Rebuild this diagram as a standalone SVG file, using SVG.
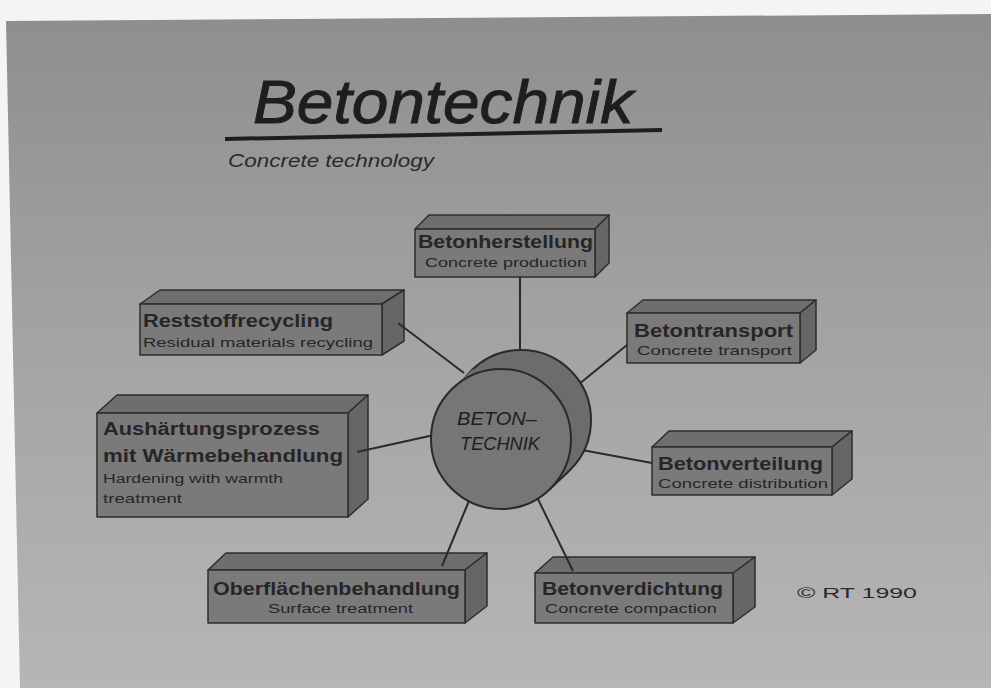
<svg xmlns="http://www.w3.org/2000/svg" width="991" height="688" viewBox="0 0 991 688">
<defs>
<linearGradient id="bg" x1="0" y1="0" x2="0" y2="1">
<stop offset="0" stop-color="#8e8e8e"/>
<stop offset="0.5" stop-color="#a4a4a4"/>
<stop offset="1" stop-color="#b6b6b6"/>
</linearGradient>
<style>
.face{fill:#7a7a7a;stroke:#2e2e2e;stroke-width:1.5;stroke-linejoin:round}
.top{fill:#6e6e6e;stroke:#2e2e2e;stroke-width:1.5;stroke-linejoin:round}
.side{fill:#666666;stroke:#2e2e2e;stroke-width:1.5;stroke-linejoin:round}
.de{font-family:"Liberation Sans",Arial,sans-serif;font-weight:bold;font-size:18px;fill:#262626}
.en{font-family:"Liberation Sans",Arial,sans-serif;font-size:13.5px;fill:#262626}
.conn line{stroke:#2a2a2a;stroke-width:2}
</style>
</defs>
<rect width="991" height="688" fill="#f4f4f4"/>
<polygon points="6,21 991,14 991,688 20,688" fill="url(#bg)"/>

<g id="title">
<text x="253" y="123" font-family="Liberation Sans,Arial,sans-serif" font-style="italic" font-size="62" fill="#1e1e1e" stroke="#1e1e1e" stroke-width="1" textLength="380" lengthAdjust="spacingAndGlyphs">Betontechnik</text>
<line x1="225" y1="139" x2="662" y2="130" stroke="#1e1e1e" stroke-width="4"/>
<text x="228" y="167" font-family="Liberation Sans,Arial,sans-serif" font-style="italic" font-size="18" fill="#2a2a2a" textLength="206" lengthAdjust="spacingAndGlyphs">Concrete technology</text>
</g>

<g id="box-betonherstellung">
<polygon class="top" points="415,229 429,215 609,215 595,229"/>
<polygon class="side" points="595,229 609,215 609,263 595,277"/>
<rect class="face" x="415" y="229" width="180" height="48"/>
<text class="de" x="418" y="248" textLength="175" lengthAdjust="spacingAndGlyphs">Betonherstellung</text>
<text class="en" x="425" y="267" textLength="162" lengthAdjust="spacingAndGlyphs">Concrete production</text>
</g>

<g id="box-reststoffrecycling">
<polygon class="top" points="140,304 160,290 404,290 382,304"/>
<polygon class="side" points="382,304 404,290 404,341 382,355"/>
<rect class="face" x="140" y="304" width="242" height="51"/>
<text class="de" x="143" y="327" textLength="190" lengthAdjust="spacingAndGlyphs">Reststoffrecycling</text>
<text class="en" x="143" y="347" textLength="230" lengthAdjust="spacingAndGlyphs">Residual materials recycling</text>
</g>

<g id="box-betontransport">
<polygon class="top" points="627,313 643,300 816,300 800,313"/>
<polygon class="side" points="800,313 816,300 816,350 800,363"/>
<rect class="face" x="627" y="313" width="173" height="50"/>
<text class="de" x="634" y="337" textLength="159" lengthAdjust="spacingAndGlyphs">Betontransport</text>
<text class="en" x="637" y="355" textLength="155" lengthAdjust="spacingAndGlyphs">Concrete transport</text>
</g>

<g id="box-aushaertung">
<polygon class="top" points="97,413 117,395 368,395 348,413"/>
<polygon class="side" points="348,413 368,395 368,499 348,517"/>
<rect class="face" x="97" y="413" width="251" height="104"/>
<text class="de" x="103" y="435" textLength="217" lengthAdjust="spacingAndGlyphs">Aushärtungsprozess</text>
<text class="de" x="103" y="462" textLength="240" lengthAdjust="spacingAndGlyphs">mit Wärmebehandlung</text>
<text class="en" x="103" y="483" textLength="180" lengthAdjust="spacingAndGlyphs">Hardening with warmth</text>
<text class="en" x="103" y="503" textLength="79" lengthAdjust="spacingAndGlyphs">treatment</text>
</g>

<g id="box-betonverteilung">
<polygon class="top" points="652,447 669,431 852,431 832,447"/>
<polygon class="side" points="832,447 852,431 852,479 832,495"/>
<rect class="face" x="652" y="447" width="180" height="48"/>
<text class="de" x="658" y="470" textLength="165" lengthAdjust="spacingAndGlyphs">Betonverteilung</text>
<text class="en" x="658" y="488" textLength="170" lengthAdjust="spacingAndGlyphs">Concrete distribution</text>
</g>

<g id="box-oberflaeche">
<polygon class="top" points="208,570 226,553 487,553 465,570"/>
<polygon class="side" points="465,570 487,553 487,606 465,623"/>
<rect class="face" x="208" y="570" width="257" height="53"/>
<text class="de" x="213" y="595" textLength="247" lengthAdjust="spacingAndGlyphs">Oberflächenbehandlung</text>
<text class="en" x="268" y="613" textLength="145" lengthAdjust="spacingAndGlyphs">Surface treatment</text>
</g>

<g id="box-betonverdichtung">
<polygon class="top" points="535,573 553,557 755,557 733,573"/>
<polygon class="side" points="733,573 755,557 755,607 733,623"/>
<rect class="face" x="535" y="573" width="198" height="50"/>
<text class="de" x="542" y="595" textLength="181" lengthAdjust="spacingAndGlyphs">Betonverdichtung</text>
<text class="en" x="545" y="613" textLength="172" lengthAdjust="spacingAndGlyphs">Concrete compaction</text>
</g>

<g id="connectors" class="conn">
<line x1="520" y1="277" x2="520" y2="356"/>
<line x1="398" y1="323" x2="464" y2="373"/>
<line x1="627" y1="345" x2="573" y2="389"/>
<line x1="582" y1="450" x2="652" y2="463"/>
<line x1="357" y1="452" x2="434" y2="435"/>
<line x1="442" y1="566" x2="471" y2="496"/>
<line x1="573" y1="571" x2="535" y2="493"/>
</g>

<g id="center">
<circle cx="521" cy="420" r="70" fill="#6c6c6c" stroke="#2a2a2a" stroke-width="2"/>
<polygon points="453,388 473,369 569,471 549,490" fill="#6c6c6c"/>
<line x1="549" y1="490" x2="569" y2="471" stroke="#2a2a2a" stroke-width="2"/>
<circle cx="501" cy="439" r="70" fill="#767676" stroke="#2a2a2a" stroke-width="2"/>
<text x="457" y="425" font-family="Liberation Sans,Arial,sans-serif" font-style="italic" font-size="19" fill="#1e1e1e" textLength="80" lengthAdjust="spacingAndGlyphs">BETON–</text>
<text x="460" y="450" font-family="Liberation Sans,Arial,sans-serif" font-style="italic" font-size="19" fill="#1e1e1e" textLength="80" lengthAdjust="spacingAndGlyphs">TECHNIK</text>
</g>

<text x="797" y="598" font-family="Liberation Sans,Arial,sans-serif" font-size="15" fill="#2a2a2a" textLength="120" lengthAdjust="spacingAndGlyphs">© RT 1990</text>
</svg>
